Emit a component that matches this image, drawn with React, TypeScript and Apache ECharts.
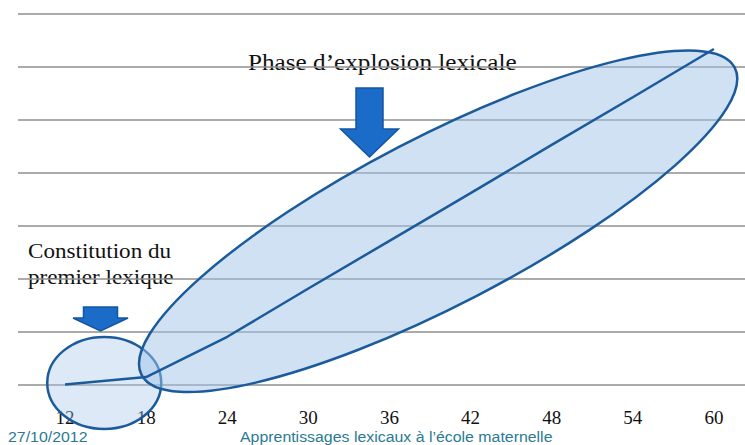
import React, { useEffect, useRef } from "react";
import * as echarts from "echarts";

const ages = [12, 18, 24, 30, 36, 42, 48, 54, 60];
const vocabulary = [1, 15, 91, 182, 272, 362, 453, 543, 634];
const ageTicks = [12, 18, 24, 30, 36, 42, 48, 54, 60];

// annotation ellipses: center in data units [age, value]
const phaseEllipses = [
  { name: "premier", center: [14.9, 4], rx: 57, ry: 46, angle: 0, fill: "rgba(170,200,235,0.4)" },
  { name: "explosion", center: [39.6, 309], rx: 334, ry: 84, angle: 27.4, fill: "rgba(160,195,232,0.5)" },
];

const titleText = "Phase d\u2019explosion lexicale";
const firstLexiconLines = ["Constitution du", "premier lexique"];
const footerDate = "27/10/2012";
const footerTitle = "Apprentissages lexicaux \u00e0 l\u2019\u00e9cole maternelle";

const arrowShape = (x: number, top: number, shaftW: number, headTop: number, headW: number, tipY: number) => [
  [x - shaftW / 2, top],
  [x + shaftW / 2, top],
  [x + shaftW / 2, headTop],
  [x + headW / 2, headTop],
  [x, tipY],
  [x - headW / 2, headTop],
  [x - shaftW / 2, headTop],
];

export default function App() {
  const ref = useRef<HTMLDivElement>(null);
  useEffect(() => {
    if (!ref.current) return;
    const chart = echarts.init(ref.current, null, { renderer: "svg" });
    const serif = "'Liberation Serif', 'DejaVu Serif', serif";
    const sans = "'Liberation Sans', Arial, sans-serif";
    chart.setOption({
      animation: false,
      backgroundColor: "#ffffff",
      grid: { left: 18, right: 0, top: 14, bottom: 60 },
      xAxis: {
        type: "value",
        min: 8.52,
        max: 62.3,
        axisLine: { show: false },
        axisTick: { show: false },
        splitLine: { show: false },
        axisLabel: {
          customValues: ageTicks,
          color: "#111",
          fontFamily: serif,
          fontSize: 19,
          margin: 23,
        },
      },
      yAxis: {
        type: "value",
        min: 0,
        max: 700,
        interval: 100,
        axisLabel: { show: false },
        axisLine: { show: false },
        axisTick: { show: false },
        splitLine: { show: true, lineStyle: { color: "#8f8f8f", width: 1.5 } },
      },
      series: [
        {
          type: "custom",
          z: 1,
          data: phaseEllipses.map((e) => [e.center[0], e.center[1]]),
          renderItem: (params: any, api: any) => {
            const e = phaseEllipses[params.dataIndex];
            const p = api.coord([api.value(0), api.value(1)]);
            return {
              type: "ellipse",
              x: p[0],
              y: p[1],
              rotation: (e.angle * Math.PI) / 180,
              shape: { cx: 0, cy: 0, rx: e.rx, ry: e.ry },
              style: { fill: e.fill, stroke: "#1B5B9B", lineWidth: 2.5 },
            };
          },
        },
        {
          type: "line",
          z: 3,
          data: ages.map((a, i) => [a, vocabulary[i]]),
          showSymbol: false,
          symbol: "none",
          lineStyle: { color: "#1B5B9B", width: 2.5 },
        },
      ],
      graphic: [
        {
          type: "text",
          x: 248,
          y: 50,
          scaleX: 1.05,
          style: { text: titleText, font: `24px ${serif}`, fill: "#111" },
        },
        {
          type: "text",
          x: 28,
          y: 238,
          scaleX: 1.1,
          style: {
            text: firstLexiconLines.join("\n"),
            font: `21px ${serif}`,
            lineHeight: 26,
            fill: "#111",
          },
        },
        {
          type: "polygon",
          shape: { points: arrowShape(369.5, 88, 27, 129, 58, 157) },
          style: { fill: "#1A6CC8", stroke: "#1455A0", lineWidth: 1.5 },
          z: 10,
        },
        {
          type: "polygon",
          shape: { points: arrowShape(100.5, 307, 34, 318, 55, 331) },
          style: { fill: "#1A6CC8", stroke: "#1455A0", lineWidth: 1.5 },
          z: 10,
        },
        {
          type: "text",
          x: 8,
          y: 429,
          scaleX: 1.06,
          style: { text: footerDate, font: `15px ${sans}`, fill: "#2A7A92" },
        },
        {
          type: "text",
          x: 240,
          y: 429,
          scaleX: 1.06,
          style: { text: footerTitle, font: `15px ${sans}`, fill: "#2A7A92" },
        },
      ],
    });
    return () => chart.dispose();
  }, []);
  return (
    <div
      ref={ref}
      style={{ position: "fixed", left: 0, top: 0, width: 745, height: 445 }}
    />
  );
}
